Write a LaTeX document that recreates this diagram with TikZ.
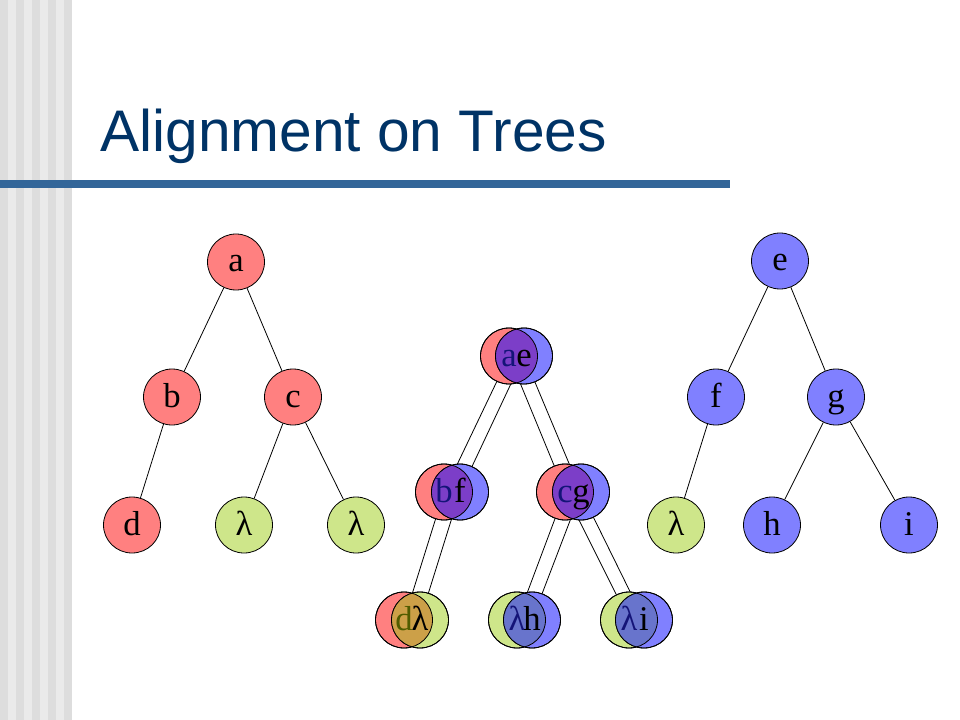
\documentclass[tikz,border=0pt]{standalone}
\usepackage{fontspec}
\setmainfont{Liberation Serif}
\newfontfamily\titlefont{Liberation Sans}
\usepackage{tikz}
\usetikzlibrary{shapes, backgrounds}
\definecolor{red}{RGB}{255,128,128}
\definecolor{blue}{RGB}{128,128,255}
\definecolor{green}{RGB}{206,230,138}
\definecolor{purple}{RGB}{124,62,200}
\definecolor{tan}{RGB}{204,160,72}
\definecolor{slate}{RGB}{104,116,204}
\definecolor{navy}{RGB}{20,20,120}
\definecolor{olive}{RGB}{80,92,0}
\definecolor{title}{RGB}{0,51,102}
\definecolor{rule}{RGB}{51,102,153}
\definecolor{stripe-dark}{RGB}{221,221,221}
\definecolor{stripe-light}{RGB}{234,234,234}
\tikzstyle{tree-node}=[ellipse, draw=black, line width=0.6pt, minimum width=42.75pt, minimum height=42pt, inner sep=0pt, text height=15pt, text depth=0pt, font=\fontsize{26}{30}\selectfont]
\tikzstyle{red-node}=[tree-node, fill=red]
\tikzstyle{blue-node}=[tree-node, fill=blue]
\tikzstyle{green-node}=[tree-node, fill=green]
\tikzstyle{letter}=[inner sep=0pt, text height=15pt, text depth=0pt, font=\fontsize{26}{30}\selectfont]
\tikzstyle{edge}=[draw=black, line width=0.6pt]

\begin{document}
\begin{tikzpicture}[x=0.75pt, y=-0.75pt]
\useasboundingbox (0,0) rectangle (960,720);

\foreach \x in {0,16,...,64}
{
  \fill[stripe-dark] (\x,0) rectangle ++(8,720);
}
\foreach \x in {8,24,...,56}
{
  \fill[stripe-light] (\x,0) rectangle ++(8,720);
}
\fill[rule] (0,180) rectangle (730,188);
\node[anchor=base west, inner sep=0pt, text=title, font=\titlefont\fontsize{44}{50}\selectfont] (title) at (100,152) {Alignment on Trees};

\node[red-node] (a) at (236,262) {a};
\node[red-node] (b) at (172,397) {b};
\node[red-node] (c) at (293,397) {c};
\node[red-node] (d) at (132,525) {d};
\node[green-node] (l1) at (244,525) {λ};
\node[green-node] (l2) at (356,525) {λ};

\node[blue-node] (e) at (780,261) {e};
\node[blue-node] (f) at (716,397) {f};
\node[blue-node] (g) at (836,397) {g};
\node[green-node] (l3) at (676,525) {λ};
\node[blue-node] (h) at (772,525) {h};
\node[blue-node] (i) at (909,525) {i};

\node[red-node] (ae-red) at (509,356) {};
\node[blue-node] (ae-blue) at (524,356) {};
\node[red-node] (bf-red) at (444,492) {};
\node[blue-node] (bf-blue) at (460,492) {};
\node[red-node] (cg-red) at (565,492) {};
\node[blue-node] (cg-blue) at (581,492) {};
\node[red-node] (dl-red) at (404,620) {};
\node[green-node] (dl-green) at (420,620) {};
\node[green-node] (lh-green) at (517,620) {};
\node[blue-node] (lh-blue) at (532,620) {};
\node[green-node] (li-green) at (629,620) {};
\node[blue-node] (li-blue) at (644,620) {};

\begin{scope}[on background layer]
\draw[edge] (a) -- (b);
\draw[edge] (a) -- (c);
\draw[edge] (b) -- (d);
\draw[edge] (c) -- (l1);
\draw[edge] (c) -- (l2);
\draw[edge] (e) -- (f);
\draw[edge] (e) -- (g);
\draw[edge] (f) -- (l3);
\draw[edge] (g) -- (h);
\draw[edge] (g) -- (i);
\draw[edge] (ae-red) -- (bf-red);
\draw[edge] (ae-blue) -- (bf-blue);
\draw[edge] (ae-red) -- (cg-red);
\draw[edge] (ae-blue) -- (cg-blue);
\draw[edge] (bf-red) -- (dl-red);
\draw[edge] (bf-blue) -- (dl-green);
\draw[edge] (cg-red) -- (lh-green);
\draw[edge] (cg-blue) -- (lh-blue);
\draw[edge] (cg-red) -- (li-green);
\draw[edge] (cg-blue) -- (li-blue);
\end{scope}

\foreach \under/\over/\mix in {ae-red/ae-blue/purple, bf-red/bf-blue/purple, cg-red/cg-blue/purple, dl-red/dl-green/tan, lh-green/lh-blue/slate, li-green/li-blue/slate}
{
  \begin{scope}
  \clip (\under.center) ellipse (21.375pt and 21pt);
  \fill[\mix] (\over.center) ellipse (21.375pt and 21pt);
  \end{scope}
  \draw[edge] (\under.center) ellipse (21.375pt and 21pt);
  \draw[edge] (\over.center) ellipse (21.375pt and 21pt);
}

\node[letter, text=navy] at (ae-red) {a};
\node[letter] at (ae-blue) {e};
\node[letter, text=navy] at (bf-red) {b};
\node[letter] at (bf-blue) {f};
\node[letter, text=navy] at (cg-red) {c};
\node[letter] at (cg-blue) {g};
\node[letter, text=olive] at (dl-red) {d};
\node[letter] at (dl-green) {λ};
\node[letter, text=navy] at (lh-green) {λ};
\node[letter] at (lh-blue) {h};
\node[letter, text=navy] at (li-green) {λ};
\node[letter] at (li-blue) {i};
\end{tikzpicture}
\end{document}
